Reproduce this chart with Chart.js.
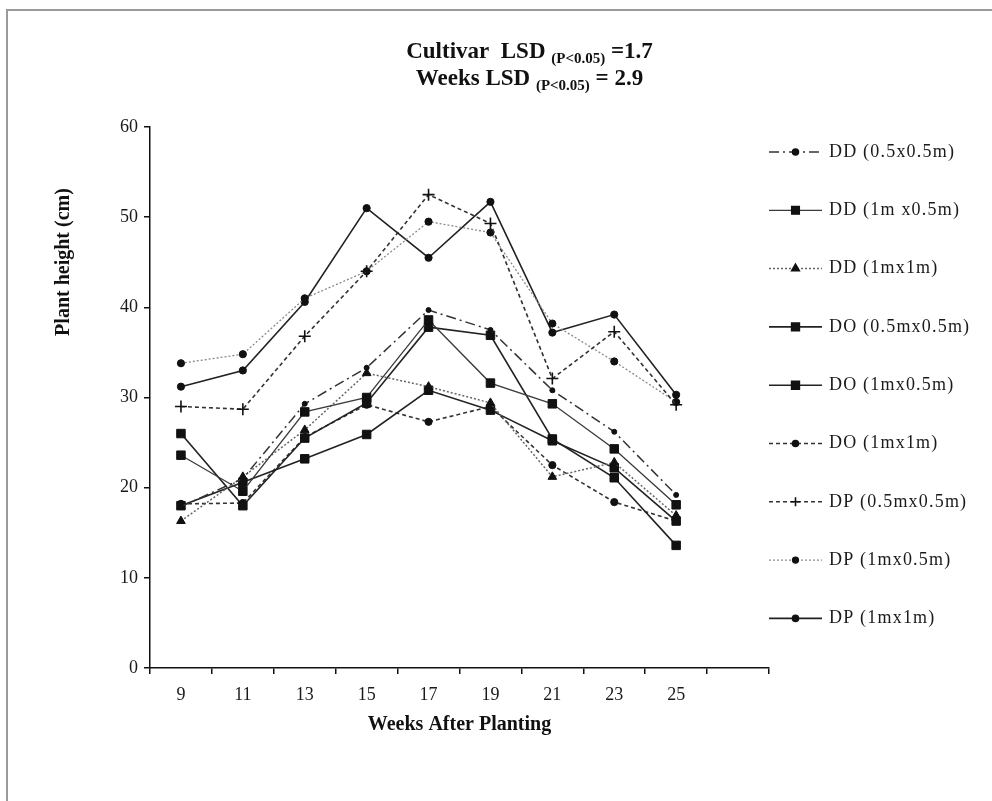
<!DOCTYPE html>
<html>
<head>
<meta charset="utf-8">
<script src="https://cdn.jsdelivr.net/npm/chart.js@4.4.1/dist/chart.umd.min.js"></script>
<style>
html,body{margin:0;padding:0;background:#fff;}
canvas{display:block;}
</style>
</head>
<body>
<canvas id="c" width="992" height="801"></canvas>
<script>
// ---- data ----
const weeks = ['9','11','13','15','17','19','21','23','25',''];
const seriesNames = ['DD (0.5x0.5m)','DD (1m x0.5m)','DD (1mx1m)','DO (0.5mx0.5m)','DO (1mx0.5m)','DO (1mx1m)','DP (0.5mx0.5m)','DP (1mx0.5m)','DP (1mx1m)'];
const dd05x05 = [17.9, 21.0, 29.3, 33.3, 39.7, 37.5, 30.8, 26.2, 19.2];
const dd1x05  = [23.6, 19.6, 28.4, 30.0, 38.6, 31.6, 29.3, 24.3, 18.1];
const dd1x1   = [16.3, 21.2, 26.4, 32.7, 31.2, 29.4, 21.2, 22.8, 16.9];
const do05x05 = [26.0, 18.0, 25.5, 29.4, 37.8, 36.9, 25.4, 21.1, 13.6];
const do1x05  = [18.0, 20.6, 23.2, 25.9, 30.8, 28.6, 25.2, 22.2, 16.3];
const do1x1   = [18.2, 18.3, 25.6, 29.2, 27.3, 29.0, 22.5, 18.4, 16.3];
const dp05x05 = [29.0, 28.7, 36.8, 44.0, 52.5, 49.3, 32.1, 37.3, 29.2];
const dp1x05  = [33.8, 34.8, 41.0, 44.0, 49.5, 48.3, 38.2, 34.0, 29.5];
const dp1x1   = [31.2, 33.0, 40.6, 51.0, 45.5, 51.7, 37.2, 39.2, 30.3];
const yTicks = [0, 10, 20, 30, 40, 50, 60];
const titleLine1 = ['Cultivar  LSD ', '(P<0.05)', ' =1.7'];
const titleLine2 = ['Weeks LSD ', '(P<0.05)', ' = 2.9'];
const yTitle = 'Plant height (cm)';
const xTitle = 'Weeks After Planting';

// ---- styles ----
const SERIF = '"Liberation Serif", "Times New Roman", serif';
const styles = [
  {dash:[10,4,2,4], color:'#333', pt:'circle', r:2.5, w:1.5},
  {dash:[], color:'#3a3a3a', pt:'rect', r:6, w:1.3},
  {dash:[2,2], color:'#666', pt:'triangle', r:5, w:1.5},
  {dash:[], color:'#222', pt:'rect', r:6, w:1.6},
  {dash:[], color:'#222', pt:'rect', r:6, w:1.6},
  {dash:[4,3], color:'#333', pt:'circle', r:3.6, w:1.6},
  {dash:[4,3], color:'#333', pt:'cross', r:6, w:1.6},
  {dash:[2,2], color:'#8a8a8a', pt:'circle', r:3.6, w:1.3},
  {dash:[], color:'#222', pt:'circle', r:3.6, w:1.6}
];
const seriesData = [dd05x05, dd1x05, dd1x1, do05x05, do1x05, do1x1, dp05x05, dp1x05, dp1x1];

const datasets = seriesData.map((d, i) => ({
  label: seriesNames[i],
  data: d,
  borderColor: styles[i].color,
  borderWidth: styles[i].w,
  borderDash: styles[i].dash,
  pointStyle: styles[i].pt,
  pointRadius: styles[i].r,
  pointHoverRadius: styles[i].r,
  pointBackgroundColor: '#111',
  pointBorderColor: '#111',
  pointBorderWidth: styles[i].pt === 'cross' ? 1.6 : 1,
  tension: 0,
  fill: false
}));

function drawMarker(ctx, style, r, x, y) {
  if (Chart.helpers && Chart.helpers.drawPoint) {
    Chart.helpers.drawPoint(ctx, {pointStyle: style, radius: r, rotation: 0, borderWidth: style === 'cross' ? 1.6 : 1}, x, y);
  }
}

const decorPlugin = {
  id: 'decor',
  beforeDraw(chart) {
    const ctx = chart.ctx;
    ctx.save();
    ctx.fillStyle = '#fff';
    ctx.fillRect(0, 0, chart.width, chart.height);
    ctx.strokeStyle = '#9a9a9a';
    ctx.lineWidth = 2;
    ctx.strokeRect(7, 10, 1100, 1100);
    ctx.restore();
  },
  afterDraw(chart) {
    const ctx = chart.ctx;
    const area = chart.chartArea;
    ctx.save();
    // rich title
    const cx = (area.left + area.right) / 2 + 70;
    const drawRich = (parts, baseY) => {
      const specs = parts.map((t, k) => ({t, size: k === 1 ? 15 : 23, dy: k === 1 ? 5 : 0}));
      let total = 0;
      specs.forEach(s => { ctx.font = 'bold ' + s.size + 'px ' + SERIF; s.w = ctx.measureText(s.t).width; total += s.w; });
      let x = cx - total / 2;
      ctx.textBaseline = 'alphabetic';
      ctx.textAlign = 'left';
      ctx.fillStyle = '#111';
      specs.forEach(s => { ctx.font = 'bold ' + s.size + 'px ' + SERIF; ctx.fillText(s.t, x, baseY + s.dy); x += s.w; });
    };
    drawRich(titleLine1, area.top - 69);
    drawRich(titleLine2, area.top - 42);

    // y title
    ctx.save();
    ctx.translate(area.left - 86, area.top + 135);
    ctx.rotate(-Math.PI / 2);
    ctx.font = 'bold 20px ' + SERIF;
    ctx.fillStyle = '#111';
    ctx.textAlign = 'center';
    ctx.textBaseline = 'middle';
    ctx.fillText(yTitle, 0, 0);
    ctx.restore();

    // legend
    const lx0 = area.right, lx1 = area.right + 53, tx = area.right + 60;
    const ly0 = area.top + 25, step = 58.3;
    chart.data.datasets.forEach((ds, i) => {
      const y = ly0 + i * step;
      ctx.save();
      ctx.strokeStyle = ds.borderColor;
      ctx.lineWidth = ds.borderWidth;
      ctx.setLineDash(ds.borderDash);
      ctx.beginPath();
      ctx.moveTo(lx0, y);
      ctx.lineTo(lx1, y);
      ctx.stroke();
      ctx.setLineDash([]);
      ctx.fillStyle = '#111';
      ctx.strokeStyle = '#111';
      drawMarker(ctx, ds.pointStyle, ds.pointStyle === 'circle' ? 3 : (ds.pointStyle === 'rect' ? 5.5 : 4.5), (lx0 + lx1) / 2, y);
      ctx.restore();
      ctx.save();
      ctx.font = '18px ' + SERIF;
      try { ctx.letterSpacing = '1.2px'; } catch (e) {}
      ctx.fillStyle = '#1a1a1a';
      ctx.textAlign = 'left';
      ctx.textBaseline = 'middle';
      ctx.fillText(ds.label, tx, y);
      ctx.restore();
    });
    ctx.restore();
  }
};

new Chart(document.getElementById('c'), {
  type: 'line',
  data: { labels: weeks, datasets },
  options: {
    responsive: false,
    animation: false,
    events: [],
    layout: { padding: { top: 127, right: 223, bottom: 60, left: 0 } },
    plugins: {
      legend: { display: false },
      title: { display: false },
      tooltip: { enabled: false }
    },
    scales: {
      x: {
        type: 'category',
        offset: true,
        grid: { display: true, drawOnChartArea: false, drawTicks: true, tickLength: 6, color: '#111', lineWidth: 1.5, offset: true },
        border: { display: true, color: '#111', width: 1.5 },
        ticks: { font: { family: SERIF, size: 18 }, color: '#1a1a1a', padding: 10, maxRotation: 0, autoSkip: false },
        title: { display: true, text: xTitle, font: { family: SERIF, size: 20, weight: 'bold' }, color: '#111', padding: { top: 4, bottom: 4 } },
        afterFit(scale) { scale.height = 73; }
      },
      y: {
        min: 0, max: 60,
        afterBuildTicks(scale) { scale.ticks = yTicks.map(v => ({ value: v })); },
        grid: { display: true, drawOnChartArea: false, drawTicks: true, tickLength: 6, color: '#111', lineWidth: 1.5 },
        border: { display: true, color: '#111', width: 1.5 },
        ticks: { font: { family: SERIF, size: 18 }, color: '#1a1a1a', padding: 6 },
        afterFit(scale) { scale.width = 150; }
      }
    }
  },
  plugins: [decorPlugin]
});
</script>
</body>
</html>
